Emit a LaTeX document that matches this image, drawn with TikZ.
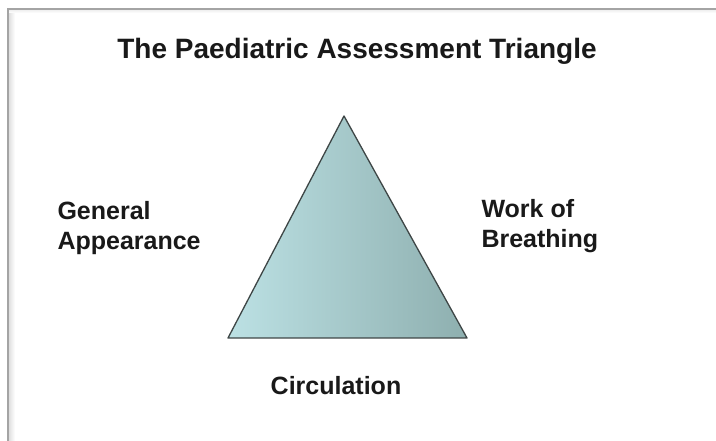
\documentclass[tikz,border=0pt]{standalone}
\usepackage{fontspec}
\setmainfont{Liberation Sans}
\usepackage{tikz}
\usetikzlibrary{positioning}
\definecolor{trilight}{HTML}{BCE1E4}
\definecolor{tridark}{HTML}{8EAFAF}
\definecolor{triedge}{HTML}{3E4646}
\definecolor{framegray}{HTML}{A4A4A4}
\tikzset{
    lbl/.style={font=\bfseries\fontsize{25}{30}\selectfont, align=left, text=black!90},
}

\begin{document}
\begin{tikzpicture}[x=1pt, y=-1pt]
    \useasboundingbox (0,0) rectangle (716,441);
    \fill[white] (0,0) rectangle (716,441);
    % Frame with soft shadow
    \shade[left color=black!14, right color=white] (8,9) rectangle (15,441);
    \shade[top color=black!8, bottom color=white] (8,9) rectangle (716,13);
    \draw[framegray, line width=1.4pt] (8,441) -- (8,9) -- (716,9);
    % Title
    \node[anchor=base, font=\bfseries\fontsize{28}{32}\selectfont, text=black!90] (title) at (357,59) {The Paediatric Assessment Triangle};
    % Triangle
    \coordinate (apex) at (344,116);
    \coordinate (bl) at (228,338);
    \coordinate (br) at (467,338);
    \shade[left color=trilight, right color=tridark] (apex) -- (bl) -- (br) -- cycle;
    \draw[triedge, line width=1.3pt, line join=round] (apex) -- (bl) -- (br) -- cycle;
    % Labels
    \node[lbl, anchor=west] (appear) at (54,228) {General\\Appearance};
    \node[lbl, anchor=west] (breath) at (478,226) {Work of\\Breathing};
    \node[lbl] (circ) at (336,386) {Circulation};
\end{tikzpicture}
\end{document}
